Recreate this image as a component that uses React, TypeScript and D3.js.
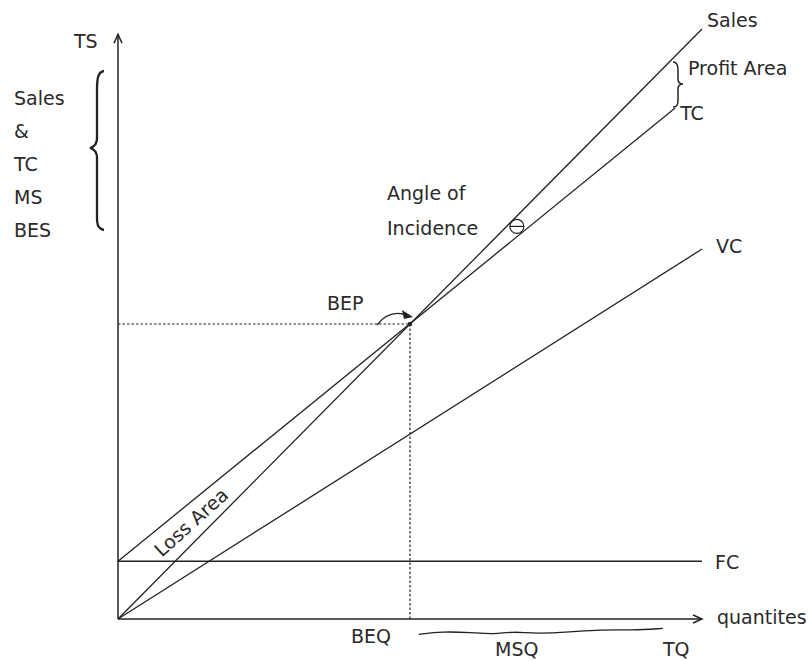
import React from 'react';
import * as d3 from 'd3';

const W = 812;
const H = 661;

// data (quantity, value)
const quantityDomain = [0, 100];
const valueDomain = [0, 100];
const salesLine: [number, number][] = [[0, 0], [100, 100]];
const tcLine: [number, number][] = [[0, 9.8], [95.4, 86.6]];
const vcLine: [number, number][] = [[0, 0], [100, 62.7]];
const fcLine: [number, number][] = [[0, 9.8], [100, 9.8]];
const bep: [number, number] = [50, 50];
const axisEnd: [number, number] = [100, 99.1];
const msqWave: [number, number][] = [
  [51.5, -2.6], [55.5, -2.1], [60.5, -2.3], [64.5, -2.6], [67.5, -2.1],
  [71.5, -2.5], [77.5, -2.2], [82.5, -1.8], [88.0, -1.9], [93.3, -1.6],
];
const leftLabels = ['Sales', '&', 'TC', 'MS', 'BES'];

const FONT = "'DejaVu Sans', sans-serif";
const INK = '#222';
const TXT = '#2a2a2a';

export default function App() {
  const x = d3.scaleLinear().domain(quantityDomain).range([118, 702]);
  const y = d3.scaleLinear().domain(valueDomain).range([619, 29]);
  const line = d3.line<[number, number]>().x(d => x(d[0])).y(d => y(d[1]));
  const wave = d3.line<[number, number]>().x(d => x(d[0])).y(d => y(d[1])).curve(d3.curveBasis);

  const x0 = x(0), y0 = y(0);
  const ax = x(axisEnd[0]), ay = y(axisEnd[1]);
  const bx = x(bep[0]), by = y(bep[1]);
  const salesEnd = salesLine[salesLine.length - 1];
  const tcEnd = tcLine[tcLine.length - 1];
  const vcEnd = vcLine[vcLine.length - 1];
  const fcEnd = fcLine[fcLine.length - 1];

  const txt = (s: string, tx: number, ty: number, extra: any = {}) => (
    <text x={tx} y={ty} fontFamily={FONT} fontSize={19} fill={TXT} {...extra}>{s}</text>
  );

  const lq = 13.3;
  const sv = salesLine[0][1] + (salesLine[1][1] - salesLine[0][1]) * lq / salesLine[1][0];
  const tv = tcLine[0][1] + (tcLine[1][1] - tcLine[0][1]) * lq / tcLine[1][0];
  const lx = x(lq), ly = (y(sv) + y(tv)) / 2 + 8;

  const thq = 68.3;
  const ts = y(thq), tt = y(tcLine[0][1] + (tcLine[1][1] - tcLine[0][1]) * thq / tcLine[1][0]);
  const thx = x(thq), thy = (ts + tt) / 2;

  return (
    <svg width={W} height={H} style={{ position: 'absolute', left: 0, top: 0, background: '#fff' }}>
      <rect x={0} y={0} width={W} height={H} fill="#fff" />
      <line x1={x0} y1={y0} x2={x0} y2={ay} stroke={INK} strokeWidth={1.5} />
      <polyline points={`${x0 - 4},${ay + 9} ${x0},${ay} ${x0 + 4},${ay + 9}`} fill="none" stroke={INK} strokeWidth={1.5} />
      <line x1={x0} y1={y0} x2={ax} y2={y0} stroke={INK} strokeWidth={1.5} />
      <polyline points={`${ax - 9},${y0 - 4} ${ax},${y0} ${ax - 9},${y0 + 4}`} fill="none" stroke={INK} strokeWidth={1.5} />

      <path d={line(fcLine) || ''} fill="none" stroke={INK} strokeWidth={1.4} />
      <path d={line(vcLine) || ''} fill="none" stroke={INK} strokeWidth={1.3} />
      <path d={line(tcLine) || ''} fill="none" stroke={INK} strokeWidth={1.3} />
      <path d={line(salesLine) || ''} fill="none" stroke={INK} strokeWidth={1.3} />

      <line x1={x0} y1={by} x2={bx} y2={by} stroke={INK} strokeWidth={1.2} strokeDasharray="2.5,2" />
      <line x1={bx} y1={by} x2={bx} y2={y0} stroke={INK} strokeWidth={1.2} strokeDasharray="2.5,2" />
      <circle cx={bx} cy={by} r={2.2} fill={INK} />

      <path d={`M ${bx - 33} ${by + 1} Q ${bx - 22} ${by - 13} ${bx - 7} ${by - 10}`} fill="none" stroke={INK} strokeWidth={1.3} />
      <path d={`M ${bx + 3} ${by - 7} L ${bx - 8} ${by - 14} L ${bx - 6} ${by - 5} Z`} fill={INK} />
      {txt('BEP', bx - 83, by - 14)}

      <circle cx={thx} cy={thy} r={7} fill="none" stroke={INK} strokeWidth={1.2} />
      <line x1={thx - 7} y1={thy} x2={thx + 7} y2={thy} stroke={INK} strokeWidth={1.2} />
      {txt('Angle of', 387, 200)}
      {txt('Incidence', 387, 235)}

      {txt('Sales', x(salesEnd[0]) + 5, y(salesEnd[1]) - 2)}
      {txt('TC', x(tcEnd[0]) + 5, y(tcEnd[1]) + 12)}
      {txt('VC', x(vcEnd[0]) + 14, y(vcEnd[1]) + 4)}
      {txt('FC', x(fcEnd[0]) + 13, y(fcEnd[1]) + 8)}
      {txt('quantites', ax + 15, y0 + 5)}
      {txt('TS', 74, 48)}

      <path d="M 673 62 C 677 62, 678 65, 678 70 L 678 79 C 678 82, 680 84, 683 84 C 680 84, 678 86, 678 89 L 678 100 C 678 105, 677 107, 673 107"
        fill="none" stroke={INK} strokeWidth={1.5} />
      {txt('Profit Area', 688, 75)}

      <path d="M 104 71 C 98 72, 97 78, 97 90 L 97 138 C 97 145, 94 147, 90 148 C 94 149, 97 151, 97 158 L 97 218 C 97 226, 99 229, 104 230"
        fill="none" stroke={INK} strokeWidth={2.3} />
      {leftLabels.map((s, i) => (
        <text key={s} x={14} y={105 + i * 33} fontFamily={FONT} fontSize={19} fill={TXT}>{s}</text>
      ))}

      <text x={lx} y={ly} fontFamily={FONT} fontSize={19} fill={TXT} textAnchor="middle"
        transform={`rotate(-42 ${lx} ${ly})`}>Loss Area</text>

      {txt('BEQ', bx - 39, 643, { textAnchor: 'middle' })}
      <path d={wave(msqWave) || ''} fill="none" stroke={INK} strokeWidth={1.3} />
      {txt('MSQ', 495, 656)}
      {txt('TQ', 663, 656)}
    </svg>
  );
}
